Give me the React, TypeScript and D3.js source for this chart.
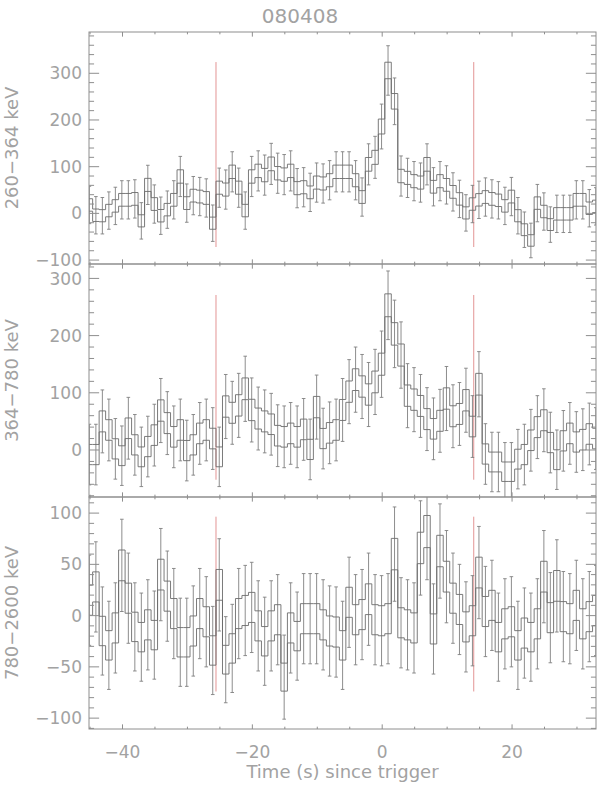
import React from "react";
import * as d3 from "d3";

const TITLE = "080408";
const X_LABEL = "Time (s) since trigger";
const BIN_START = -45.6;
const BIN_WIDTH = 1;
const X_DOMAIN: [number, number] = [-45.16, 32.93];
const X_MAJOR = [-40, -20, 0, 20];
const X_MINOR_STEP = 5;
const MARKER_TIMES = [-25.6, 14.1];
const BOX_FRACTION = 1 / 3;

const bandLabels = ["260\u2212364 keV", "364\u2212780 keV", "780\u22122600 keV"];

const counts1 = [
  18, -4, -5, 6, 16, 29, 29, 31, -16, 61,
  20, -5, 8, 29, 79, 22, 38, 36, 33, -21,
  55, 51, 89, 55, 6, 79, 91, 82, 106, 86,
  83, 91, 54, 56, 45, 66, 64, 71, 89, 89,
  89, 71, 35, 105, 120, 186, 306, 240, 80, 76,
  69, 66, 105, 57, 69, 61, 46, 31, 1, 20,
  29, 35, 31, 28, 16, 36, -5, -35, -58, 22,
  4, -24, -1, -1, -1, 29, 29, 11, 15,
];
const errors1 = [
  40, 40, 39, 40, 40, 41, 41, 41, 39, 42,
  41, 40, 40, 41, 43, 41, 41, 41, 41, 39,
  42, 42, 43, 42, 40, 43, 43, 43, 44, 43,
  43, 43, 42, 42, 41, 42, 42, 42, 43, 43,
  43, 42, 41, 44, 45, 48, 53, 50, 43, 42,
  42, 42, 44, 41, 42, 41, 41, 40, 39, 40,
  40, 41, 41, 40, 40, 41, 39, 38, 37, 40,
  40, 38, 40, 40, 40, 41, 41, 40, 40,
];

const counts2 = [
  -8, -8, 50, 35, 2, -10, 38, 9, -12, 6,
  26, 69, 47, 23, 35, -1, 9, 29, 35, 20,
  -12, 76, 65, 78, 107, 70, 55, 50, 45, 25,
  23, 29, 23, 36, 1, 75, 20, 30, 35, 70,
  102, 123, 111, 97, 119, 150, 253, 203, 166, 95,
  88, 77, 54, 37, 51, 90, 59, 63, 87, 41,
  115, -7, -21, -21, -38, -38, -16, -8, 17, 40,
  52, 13, -17, 16, 29, 14, 18, 28, 20,
];
const errors2 = [
  53, 53, 55, 54, 53, 52, 54, 53, 52, 53,
  54, 56, 55, 54, 54, 53, 53, 54, 54, 54,
  52, 56, 55, 56, 57, 56, 55, 55, 54, 54,
  54, 54, 54, 54, 53, 56, 53, 54, 54, 55,
  56, 57, 56, 56, 57, 58, 60, 59, 58, 56,
  56, 55, 55, 54, 55, 56, 55, 55, 56, 54,
  57, 53, 52, 52, 51, 51, 52, 53, 54, 55,
  55, 53, 52, 53, 54, 53, 54, 54, 54,
];

const counts3 = [
  15, 28, -15, -29, -12, 49, 17, -11, -21, -9,
  -19, 40, 19, 2, -26, -26, -15, 2, -6, -34,
  30, -43, -32, 2, 5, 8, -10, -25, -10, -4,
  -60, -12, -20, -3, -3, -3, -9, -15, -16, -29,
  13, -4, 1, 16, -4, -5, -3, 60, -7, -9,
  -12, 66, 82, -13, 63, 38, 17, 6, -11, -5,
  42, 4, 10, -21, -8, -6, -29, -17, -21, -8,
  38, -2, 29, -1, -3, 10, -8, -1, 5,
];
const errors3 = [
  44, 44, 43, 43, 44, 45, 44, 43, 43, 44,
  43, 45, 44, 44, 43, 43, 44, 44, 44, 43,
  45, 42, 43, 44, 44, 44, 44, 43, 44, 44,
  41, 44, 43, 44, 44, 44, 44, 44, 44, 43,
  44, 44, 44, 45, 44, 44, 44, 46, 44, 44,
  44, 46, 47, 44, 46, 45, 44, 44, 44, 44,
  45, 44, 44, 43, 44, 44, 43, 44, 43, 44,
  45, 44, 45, 44, 44, 44, 44, 44, 44,
];

const yDomains: [number, number][] = [
  [-108.4, 388.4],
  [-82.2, 325.2],
  [-110.6, 115.7],
];
const yMajorTicks = [
  [-100, 0, 100, 200, 300],
  [0, 100, 200, 300],
  [-100, -50, 0, 50, 100],
];
const yMinorSteps = [20, 20, 10];
const markerRanges: [number, number][] = [
  [-72, 324],
  [-52, 271],
  [-74, 96.5],
];

const panelCounts = [counts1, counts2, counts3];
const panelErrors = [errors1, errors2, errors3];

// layout
const W = 600;
const H = 788;
const LEFT = 89;
const RIGHT = 596;
const PANEL_EDGES = [32, 264, 497, 729];

const AXIS_COLOR = "#8e8e8e";
const TEXT_COLOR = "#a2a2a2";
const HIST_COLOR = "#6c6c6c";
const ERR_COLOR = "#808080";
const MARKER_COLOR = "#e39494";
const FONT = "'DejaVu Sans', sans-serif";

const x = d3.scaleLinear().domain(X_DOMAIN).range([LEFT, RIGHT]);

function minorTicks(domain: [number, number], step: number) {
  const out: number[] = [];
  const start = Math.ceil(domain[0] / step) * step;
  for (let v = start; v <= domain[1] + 1e-9; v += step) out.push(+v.toFixed(6));
  return out;
}

function Panel({ idx }: { idx: number }) {
  const top = PANEL_EDGES[idx];
  const bottom = PANEL_EDGES[idx + 1];
  const y = d3.scaleLinear().domain(yDomains[idx]).range([bottom, top]);
  const counts = panelCounts[idx];
  const errs = panelErrors[idx];
  const clipId = `clip-${idx}`;

  const upperPts: [number, number][] = [];
  const lowerPts: [number, number][] = [];
  counts.forEach((v, i) => {
    const x0 = BIN_START + i * BIN_WIDTH;
    const x1 = x0 + BIN_WIDTH;
    const b = errs[i] * BOX_FRACTION;
    upperPts.push([x(x0), y(v + b)], [x(x1), y(v + b)]);
    lowerPts.push([x(x0), y(v - b)], [x(x1), y(v - b)]);
  });
  const line = d3.line<[number, number]>();

  const xMinor = minorTicks(X_DOMAIN, X_MINOR_STEP);
  const yMinor = minorTicks(yDomains[idx], yMinorSteps[idx]);
  const xTickMajor = 0.02 * (bottom - top);
  const yTickMajor = 0.02 * (RIGHT - LEFT);

  return (
    <g>
      <defs>
        <clipPath id={clipId}>
          <rect x={LEFT} y={top} width={RIGHT - LEFT} height={bottom - top} />
        </clipPath>
      </defs>
      <g clipPath={`url(#${clipId})`}>
        {MARKER_TIMES.map((t, i) => (
          <line
            key={`m${i}`}
            x1={x(t)}
            x2={x(t)}
            y1={y(markerRanges[idx][0])}
            y2={y(markerRanges[idx][1])}
            stroke={MARKER_COLOR}
            strokeWidth={1}
          />
        ))}
        {counts.map((v, i) => {
          const xc = x(BIN_START + (i + 0.5) * BIN_WIDTH);
          const e = errs[i];
          return (
            <g key={`e${i}`} stroke={ERR_COLOR} strokeWidth={0.9}>
              <line x1={xc} x2={xc} y1={y(v - e)} y2={y(v + e)} />
              <line x1={xc - 1.8} x2={xc + 1.8} y1={y(v - e)} y2={y(v - e)} />
              <line x1={xc - 1.8} x2={xc + 1.8} y1={y(v + e)} y2={y(v + e)} />
            </g>
          );
        })}
        <path d={line(upperPts) || ""} fill="none" stroke={HIST_COLOR} strokeWidth={0.9} />
        <path d={line(lowerPts) || ""} fill="none" stroke={HIST_COLOR} strokeWidth={0.9} />
      </g>
      <rect
        x={LEFT}
        y={top}
        width={RIGHT - LEFT}
        height={bottom - top}
        fill="none"
        stroke={AXIS_COLOR}
        strokeWidth={1}
      />
      {xMinor.map((t) => {
        const major = X_MAJOR.includes(t);
        const len = major ? xTickMajor : xTickMajor / 2;
        return (
          <g key={`xt${t}`} stroke={AXIS_COLOR}>
            <line x1={x(t)} x2={x(t)} y1={bottom} y2={bottom - len} />
            <line x1={x(t)} x2={x(t)} y1={top} y2={top + len} />
          </g>
        );
      })}
      {yMinor.map((v) => {
        const major = yMajorTicks[idx].includes(v);
        const len = major ? yTickMajor : yTickMajor / 2;
        return (
          <g key={`yt${v}`} stroke={AXIS_COLOR}>
            <line x1={LEFT} x2={LEFT + len} y1={y(v)} y2={y(v)} />
            <line x1={RIGHT} x2={RIGHT - len} y1={y(v)} y2={y(v)} />
          </g>
        );
      })}
      {yMajorTicks[idx].map((v) => (
        <text
          key={`yl${v}`}
          x={82}
          y={y(v)}
          dy="0.36em"
          textAnchor="end"
          fontSize={17}
          fontFamily={FONT}
          fill={TEXT_COLOR}
        >
          {v < 0 ? `\u2212${Math.abs(v)}` : `${v}`}
        </text>
      ))}
      <text
        transform={`translate(18, ${(top + bottom) / 2}) rotate(-90)`}
        textAnchor="middle"
        fontSize={18}
        fontFamily={FONT}
        fill={TEXT_COLOR}
      >
        {bandLabels[idx]}
      </text>
      {idx === 2 &&
        X_MAJOR.map((t) => (
          <text
            key={`xl${t}`}
            x={x(t)}
            y={757.5}
            textAnchor="middle"
            fontSize={17}
            fontFamily={FONT}
            fill={TEXT_COLOR}
          >
            {t < 0 ? `\u2212${Math.abs(t)}` : `${t}`}
          </text>
        ))}
    </g>
  );
}

export default function App() {
  return (
    <div style={{ position: "absolute", left: 0, top: 0 }}>
      <svg width={W} height={H} style={{ display: "block", background: "#fff" }}>
        <text
          x={300}
          y={23}
          textAnchor="middle"
          fontSize={20}
          fontFamily={FONT}
          fill={TEXT_COLOR}
        >
          {TITLE}
        </text>
        {[0, 1, 2].map((i) => (
          <Panel key={i} idx={i} />
        ))}
        <text
          x={(LEFT + RIGHT) / 2}
          y={778}
          textAnchor="middle"
          fontSize={18}
          fontFamily={FONT}
          fill={TEXT_COLOR}
        >
          {X_LABEL}
        </text>
      </svg>
    </div>
  );
}
